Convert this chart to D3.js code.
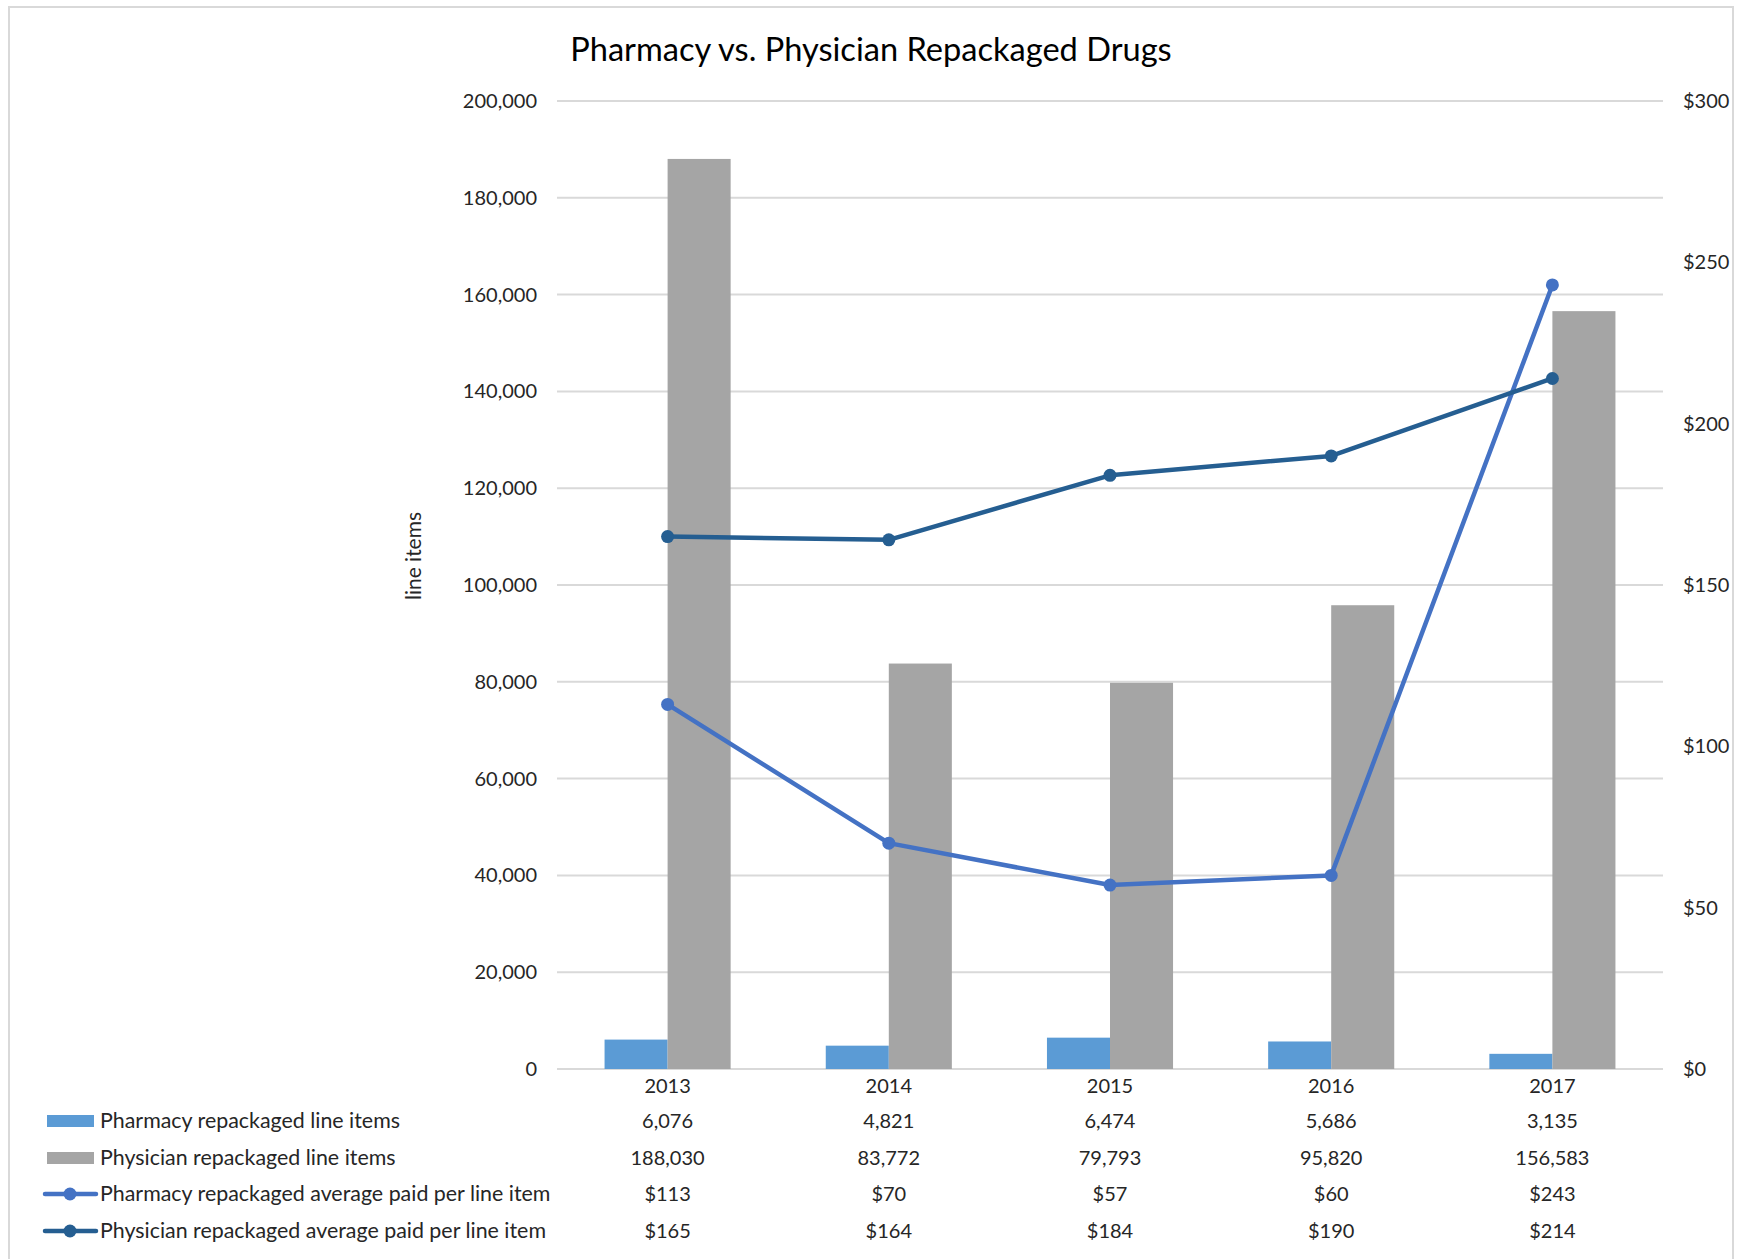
<!DOCTYPE html>
<html><head><meta charset="utf-8">
<script src="https://cdn.jsdelivr.net/npm/d3@7"></script>
<style>
body{margin:0;background:#fff}
svg{display:block}
text{font-family:Lato, Carlito, "Open Sans", sans-serif; fill:#262626}
</style>
</head><body>
<svg id="c" width="1737" height="1259"></svg>
<script>
const years = ["2013","2014","2015","2016","2017"];
const pharmacyItems = [6076, 4821, 6474, 5686, 3135];
const physicianItems = [188030, 83772, 79793, 95820, 156583];
const pharmacyAvg = [113, 70, 57, 60, 243];
const physicianAvg = [165, 164, 184, 190, 214];
const leftTicks = [0,20000,40000,60000,80000,100000,120000,140000,160000,180000,200000];
const rightTicks = [0,50,100,150,200,250,300];
const seriesNames = ["Pharmacy repackaged line items","Physician repackaged line items","Pharmacy repackaged average paid per line item","Physician repackaged average paid per line item"];
const colors = ["#5B9BD5","#A5A5A5","#4472C4","#255E91"];

const svg = d3.select("#c");
const L = 557, R = 1663, T = 101, B = 1069;

// border
svg.append("rect").attr("x",9).attr("y",7).attr("width",1724).attr("height",1270)
  .attr("fill","none").attr("stroke","#D9D9D9").attr("stroke-width",2);

const x = d3.scaleBand().domain(years).range([L,R]).paddingInner(0.43).paddingOuter(0.215);
const xs = d3.scaleBand().domain([0,1]).range([0,x.bandwidth()]);
const yL = d3.scaleLinear().domain([0,200000]).range([B,T]);
const yR = d3.scaleLinear().domain([0,300]).range([B,T]);
const fmtN = d3.format(",");
const fmtD = v => "$" + d3.format(",")(v);

// title
svg.append("text").attr("x",871).attr("y",50).attr("text-anchor","middle").attr("dy","0.35em")
  .style("font-size","32.6px").style("fill","#000").text("Pharmacy vs. Physician Repackaged Drugs");

// gridlines
svg.append("g").selectAll("line").data(leftTicks).join("line")
  .attr("x1",L).attr("x2",R).attr("y1",d=>yL(d)).attr("y2",d=>yL(d))
  .attr("stroke","#D9D9D9").attr("stroke-width",2);

// left axis
const gl = svg.append("g").attr("transform",`translate(${L-20},0)`)
  .call(d3.axisLeft(yL).tickValues(leftTicks).tickFormat(fmtN).tickSize(0).tickPadding(0));
gl.select(".domain").remove();
gl.selectAll("text").style("font-size","20px").style("font-family","Lato, Carlito, sans-serif").attr("fill","#262626");

// right axis
const gr = svg.append("g").attr("transform",`translate(${R+20},0)`)
  .call(d3.axisRight(yR).tickValues(rightTicks).tickFormat(fmtD).tickSize(0).tickPadding(0));
gr.select(".domain").remove();
gr.selectAll("text").style("font-size","20px").style("font-family","Lato, Carlito, sans-serif").attr("fill","#262626");

// y title
svg.append("text").attr("transform","translate(414,556) rotate(-90)").attr("text-anchor","middle")
  .attr("dy","0.35em").style("font-size","21px").text("line items");

// bars
const barSeries = [pharmacyItems, physicianItems];
barSeries.forEach((vals,i)=>{
  svg.append("g").selectAll("rect").data(vals).join("rect")
    .attr("x",(d,j)=>x(years[j])+xs(i)).attr("width",xs.bandwidth())
    .attr("y",d=>yL(d)).attr("height",d=>B-yL(d)).attr("fill",colors[i]);
});

// lines
const lineSeries = [pharmacyAvg, physicianAvg];
const cx = j => x(years[j]) + x.bandwidth()/2;
lineSeries.forEach((vals,i)=>{
  const line = d3.line().x((d,j)=>cx(j)).y(d=>yR(d));
  svg.append("path").datum(vals).attr("d",line).attr("fill","none")
    .attr("stroke",colors[i+2]).attr("stroke-width",4.5).attr("stroke-linejoin","round");
  svg.append("g").selectAll("circle").data(vals).join("circle")
    .attr("cx",(d,j)=>cx(j)).attr("cy",d=>yR(d)).attr("r",6.5).attr("fill",colors[i+2]);
});

// data table
const rowY = [1086, 1121, 1158, 1194, 1231];
svg.append("g").selectAll("text").data(years).join("text")
  .attr("x",(d,j)=>cx(j)).attr("y",rowY[0]).attr("dy","0.35em").attr("text-anchor","middle")
  .style("font-size","20px").text(d=>d);
const tableVals = [pharmacyItems.map(fmtN), physicianItems.map(fmtN), pharmacyAvg.map(fmtD), physicianAvg.map(fmtD)];
tableVals.forEach((vals,i)=>{
  const y = rowY[i+1];
  svg.append("g").selectAll("text").data(vals).join("text")
    .attr("x",(d,j)=>cx(j)).attr("y",y).attr("dy","0.35em").attr("text-anchor","middle")
    .style("font-size","20px").text(d=>d);
  // legend key
  if(i<2){
    svg.append("rect").attr("x",47).attr("y",y-6).attr("width",47).attr("height",12).attr("fill",colors[i]);
  } else {
    svg.append("line").attr("x1",45).attr("x2",96).attr("y1",y).attr("y2",y)
      .attr("stroke",colors[i]).attr("stroke-width",4.5).attr("stroke-linecap","round");
    svg.append("circle").attr("cx",70).attr("cy",y).attr("r",6.5).attr("fill",colors[i]);
  }
  svg.append("text").attr("x",100).attr("y",y).attr("dy","0.35em").style("font-size","21.4px").text(seriesNames[i]);
});
</script>
</body></html>
